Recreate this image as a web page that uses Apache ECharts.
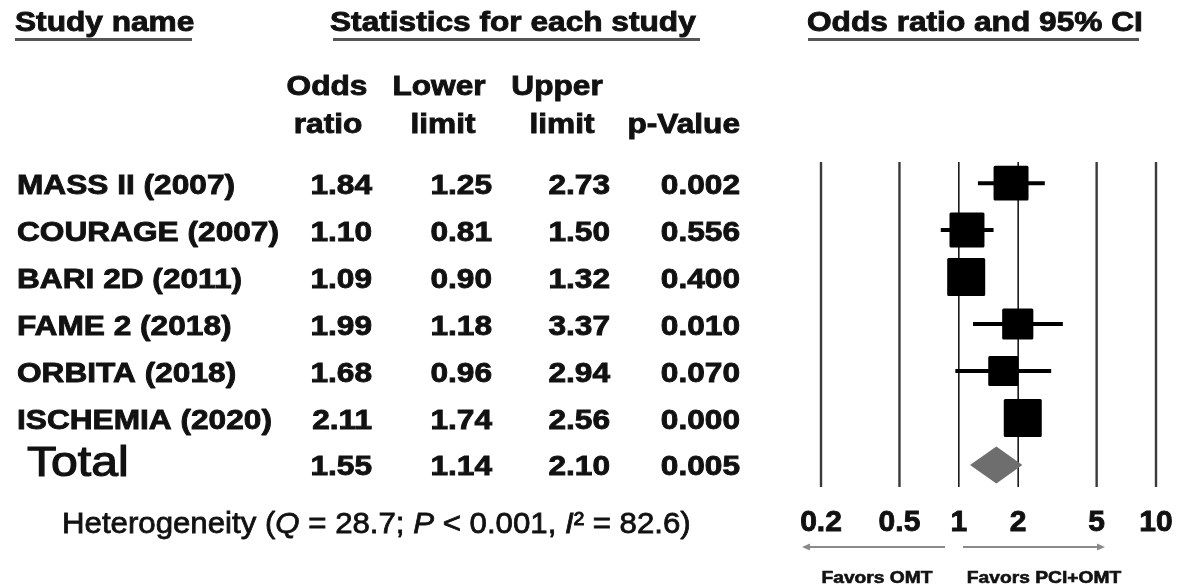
<!DOCTYPE html>
<html>
<head>
<meta charset="utf-8">
<script src="https://cdn.jsdelivr.net/npm/echarts@6/dist/echarts.min.js"></script>
<style>
  html, body { margin: 0; padding: 0; background: #ffffff; }
  #chart { width: 1177px; height: 586px; }
</style>
</head>
<body>
<div id="chart"></div>
<script>
// Study-level results
const studies = ['MASS II (2007)', 'COURAGE (2007)', 'BARI 2D (2011)', 'FAME 2 (2018)', 'ORBITA (2018)', 'ISCHEMIA (2020)'];
const oddsRatio = [1.84, 1.10, 1.09, 1.99, 1.68, 2.11];
const lowerLimit = [1.25, 0.81, 0.90, 1.18, 0.96, 1.74];
const upperLimit = [2.73, 1.50, 1.32, 3.37, 2.94, 2.56];
const pValues = ['0.002', '0.556', '0.400', '0.010', '0.070', '0.000'];
// Relative study weights (largest = 1)
const studyWeight = [0.92, 0.92, 1.0, 0.82, 0.79, 1.0];

// Pooled estimate
const totalLabel = 'Total';
const totalEstimate = [1.55, 1.14, 2.10];
const totalP = '0.005';

// Heterogeneity statistics
const hetQ = '28.7';
const hetP = '0.001';
const hetI2 = '82.6';

// Axis ticks
const tickValues = [0.2, 0.5, 1, 2, 5, 10];

const fmt = v => v.toFixed(2);
const BOLD = 'bold';
const FONT = '"Liberation Sans", Arial, Helvetica, sans-serif';
const SX = 1.13;     // horizontal stretch of table lettering
const MAX_BOX = 38;  // marker size of the heaviest study
const Y_MIN = -0.45, Y_MAX = 6.47;

const chart = echarts.init(document.getElementById('chart'));

chart.setOption({
  backgroundColor: '#ffffff',
  animation: false,
  grid: { left: 821, right: 21, top: 162, bottom: 99 },
  xAxis: {
    type: 'log',
    logBase: 10,
    min: 0.2,
    max: 10,
    axisLine: { show: false },
    axisTick: { show: false },
    splitLine: { show: false },
    axisLabel: {
      customValues: tickValues,
      formatter: v => String(+(+v).toPrecision(3)),
      margin: 21,
      color: '#111',
      fontFamily: FONT,
      fontWeight: BOLD,
      fontSize: 30,
      textBorderColor: '#111',
      textBorderWidth: 0.9
    }
  },
  yAxis: { type: 'value', inverse: true, min: Y_MIN, max: Y_MAX, show: false },
  series: [
    {
      // vertical reference lines at each tick
      type: 'custom',
      z: 1,
      data: tickValues.map(v => [v]),
      renderItem: (params, api) => {
        const v = api.value(0);
        const p0 = api.coord([v, Y_MIN]);
        const p1 = api.coord([v, Y_MAX]);
        const inner = v === 1 || v === 2;
        return {
          type: 'line',
          shape: { x1: p0[0], y1: p0[1], x2: p1[0], y2: p1[1] },
          style: { stroke: inner ? '#1a1a1a' : '#3a3a3a', lineWidth: inner ? 1.6 : 2.4 }
        };
      }
    },
    {
      // confidence intervals
      type: 'custom',
      z: 2,
      data: studies.map((s, i) => [lowerLimit[i], upperLimit[i], i]),
      renderItem: (params, api) => {
        const a = api.coord([api.value(0), api.value(2)]);
        const b = api.coord([api.value(1), api.value(2)]);
        return {
          type: 'line',
          shape: { x1: a[0], y1: a[1], x2: b[0], y2: b[1] },
          style: { stroke: '#000', lineWidth: 4 }
        };
      }
    },
    {
      // point estimates sized by weight
      type: 'scatter',
      z: 3,
      symbol: 'rect',
      data: studies.map((s, i) => [oddsRatio[i], i, studyWeight[i]]),
      symbolSize: d => d[2] * MAX_BOX - 3,
      itemStyle: { color: '#000', opacity: 1, borderColor: '#000', borderWidth: 3, borderJoin: 'round' }
    },
    {
      // pooled diamond
      type: 'custom',
      z: 3,
      data: [[totalEstimate[0], totalEstimate[1], totalEstimate[2], studies.length]],
      renderItem: (params, api) => {
        const row = api.value(3);
        const c = api.coord([api.value(0), row]);
        const l = api.coord([api.value(1), row]);
        const r = api.coord([api.value(2), row]);
        const h = 18.5;
        return {
          type: 'polygon',
          shape: { points: [[l[0], c[1]], [c[0], c[1] - h], [r[0], c[1]], [c[0], c[1] + h]] },
          style: { fill: '#6e6e6e' }
        };
      }
    }
  ]
});

// ---- table and annotations ----
function txt(x, y, text, o) {
  o = o || {};
  return {
    type: 'text',
    x: x, y: y,
    scaleX: o.sx || SX,
    z: 10,
    style: {
      text: text,
      fontFamily: FONT,
      fontWeight: o.weight || BOLD,
      fontSize: o.size || 28,
      fill: '#111',
      stroke: '#111',
      lineWidth: o.stroke != null ? o.stroke : 0.9,
      align: o.align || 'left',
      verticalAlign: 'middle',
      rich: o.rich
    }
  };
}
function rule(x1, x2, y, w, color) {
  return {
    type: 'line', z: 10,
    shape: { x1: x1, y1: y, x2: x2, y2: y },
    style: { stroke: color || '#555', lineWidth: w || 3 }
  };
}
function arrow(x1, x2, y) {
  const dir = x2 > x1 ? 1 : -1;
  return [
    { type: 'line', z: 10, shape: { x1: x1, y1: y, x2: x2 - dir * 6, y2: y }, style: { stroke: '#8a8a8a', lineWidth: 2 } },
    { type: 'polygon', z: 10, shape: { points: [[x2, y], [x2 - dir * 8, y - 3.5], [x2 - dir * 8, y + 3.5]] }, style: { fill: '#8a8a8a' } }
  ];
}

const rowY = i => chart.convertToPixel({ gridIndex: 0 }, [1, i])[1];
const colRight = [372, 492, 610, 740];

const g = [];
// headers
g.push(txt(15, 23, 'Study name'));
g.push(txt(330, 23, 'Statistics for each study'));
g.push(txt(807, 23, 'Odds ratio and 95% CI'));
g.push(rule(15, 192, 39.5));
g.push(rule(333, 700, 39.5));
g.push(rule(808, 1139, 39.5));
g.push(txt(327, 87, 'Odds', { align: 'center' }));
g.push(txt(439, 87, 'Lower', { align: 'center' }));
g.push(txt(557, 87, 'Upper', { align: 'center' }));
g.push(txt(328, 125, 'ratio', { align: 'center' }));
g.push(txt(443, 125, 'limit', { align: 'center' }));
g.push(txt(562, 125, 'limit', { align: 'center' }));
g.push(txt(740, 125, 'p-Value', { align: 'right' }));

// study rows
studies.forEach((s, i) => {
  const y = rowY(i) + 3;
  g.push(txt(17, y, s));
  [fmt(oddsRatio[i]), fmt(lowerLimit[i]), fmt(upperLimit[i]), pValues[i]].forEach((v, k) => {
    g.push(txt(colRight[k], y, v, { align: 'right' }));
  });
});

// pooled row
const ty = rowY(studies.length);
g.push(txt(27, ty - 1, totalLabel, { weight: 'normal', size: 43, sx: 1.12, stroke: 1.2 }));
[fmt(totalEstimate[0]), fmt(totalEstimate[1]), fmt(totalEstimate[2]), totalP].forEach((v, k) => {
  g.push(txt(colRight[k], ty + 2, v, { align: 'right' }));
});

// heterogeneity line
const itStyle = { fontStyle: 'italic', fontFamily: FONT, fontSize: 30, fill: '#111', stroke: '#111', lineWidth: 0.8 };
g.push(txt(62, 525,
  'Heterogeneity ({it|Q} = ' + hetQ + '; {it|P} < ' + hetP + ', {it|I}\u00B2 = ' + hetI2 + ')',
  { weight: 'normal', size: 30, sx: 1.04, stroke: 0.8, rich: { it: itStyle } }));

// direction arrows and captions
g.push(...arrow(945, 802, 547));
g.push(...arrow(963, 1105, 547));
g.push(txt(877, 578, 'Favors OMT', { align: 'center', size: 17, stroke: 0.6 }));
g.push(txt(1044, 578, 'Favors PCI+OMT', { align: 'center', size: 17, stroke: 0.6 }));

chart.setOption({ graphic: { elements: g } });
</script>
</body>
</html>
